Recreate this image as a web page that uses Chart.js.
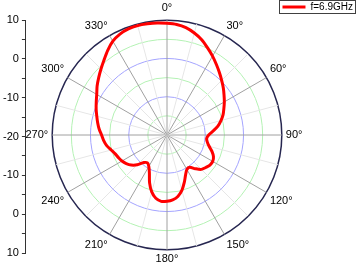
<!DOCTYPE html>
<html>
<head>
<meta charset="utf-8">
<script src="https://cdn.jsdelivr.net/npm/chart.js@4"></script>
<style>
  body { margin: 0; background: #fff; }
  #wrap { position: relative; width: 358px; height: 269px; }
  #wrap canvas { position: absolute; left: 0; top: 0; }
</style>
</head>
<body>
<div id="wrap">
  <canvas id="polarChart" width="358" height="269"></canvas>
  <canvas id="axisChart" width="358" height="269"></canvas>
</div>
<script>
// angle in degrees, 5 deg steps
const angles = [
  0, 5, 10, 15, 20, 25, 30, 35, 40, 45, 50, 55,
  60, 65, 70, 75, 80, 85, 90, 95, 100, 105, 110, 115,
  120, 125, 130, 135, 140, 145, 150, 155, 160, 165, 170, 175,
  180, 185, 190, 195, 200, 205, 210, 215, 220, 225, 230, 235,
  240, 245, 250, 255, 260, 265, 270, 275, 280, 285, 290, 295,
  300, 305, 310, 315, 320, 325, 330, 335, 340, 345, 350, 355
];
// gain (dB)
const gain = [
  9.2, 9.0, 8.5, 7.6, 6.5, 5.1, 3.8, 2.5, 1.3, 0.2, -0.8, -1.8,
  -2.7, -3.6, -4.4, -5.4, -6.5, -7.9, -9.1, -9.6, -9.3, -8.6, -7.5, -6.6,
  -6.2, -6.3, -6.8, -7.3, -8.5, -9.7, -9.6, -8.5, -6.8, -5.0, -3.7, -3.0,
  -2.7, -2.6, -3.2, -4.6, -6.7, -9.1, -10.5, -11.1, -10.6, -9.0, -7.8, -7.0,
  -6.4, -6.0, -5.6, -4.9, -4.0, -3.4, -2.9, -2.2, -1.6, -1.0, -0.3, 0.4,
  1.2, 2.3, 3.3, 4.4, 5.6, 7.0, 8.3, 9.1, 9.5, 9.6, 9.5, 9.4
];
const seriesName = 'f=6.9GHz';
const axisTickLabels = ['10', '0', '-10', '-20', '-10', '0', '10'];

Chart.defaults.font.family = 'Arial, "Liberation Sans", sans-serif';
Chart.defaults.font.size = 11;
Chart.defaults.color = '#000';

function ringColor(v) {
  if (v === 10) return '#262650';
  return v % 10 === 0 ? '#a4a4ff' : '#b4f2b4';
}

function spokeColor(i) {
  if (i % 6 === 0) return '#a0a0a0';
  if (i % 3 === 0) return '#e6e6e6';
  return 'rgba(0,0,0,0)';
}

new Chart(document.getElementById('polarChart'), {
  type: 'radar',
  data: {
    labels: angles,
    datasets: [{
      label: seriesName,
      data: gain,
      borderColor: '#ff0000',
      borderWidth: 3,
      pointRadius: 0,
      fill: false,
      tension: 0.3
    }]
  },
  options: {
    responsive: false,
    animation: false,
    layout: { padding: { left: 18, right: 48, top: 0, bottom: -3 } },
    plugins: { legend: { display: false }, tooltip: { enabled: false } },
    scales: {
      r: {
        min: -20,
        max: 10,
        ticks: { display: false, stepSize: 5 },
        grid: {
          circular: true,
          color: ctx => ringColor(ctx.tick.value),
          lineWidth: ctx => ctx.tick.value === 10 ? 1.5 : 1
        },
        angleLines: { color: ctx => spokeColor(ctx.index), lineWidth: 1 },
        pointLabels: {
          font: { size: 11 },
          color: '#000',
          padding: ctx => ctx.index === 0 ? 6 : (ctx.index === 36 ? 3 : 4),
          callback: v => v % 30 === 0 ? v + '°' : ''
        }
      }
    }
  }
});

// frame round the legend, like the original
const legendFrame = {
  id: 'legendFrame',
  afterDraw(chart) {
    const hb = chart.legend.legendHitBoxes[0];
    if (!hb) return;
    const c = chart.ctx;
    c.save();
    c.strokeStyle = '#404040';
    c.lineWidth = 1;
    c.strokeRect(Math.round(hb.left) - 2.5, Math.round(hb.top) - 1.5,
                 Math.round(hb.width) + 5, Math.round(hb.height) + 3);
    c.restore();
  }
};

new Chart(document.getElementById('axisChart'), {
  type: 'line',
  data: {
    labels: [],
    datasets: [{
      label: seriesName,
      data: [],
      borderColor: '#ff0000',
      backgroundColor: '#ff0000',
      borderWidth: 3
    }]
  },
  options: {
    responsive: false,
    animation: false,
    layout: { padding: { left: 0, right: 5, top: 2, bottom: 16 } },
    plugins: {
      legend: {
        position: 'top',
        align: 'end',
        maxHeight: 18,
        labels: {
          usePointStyle: true,
          pointStyle: 'line',
          pointStyleWidth: 23,
          padding: 0,
          font: { size: 10 },
          color: '#000'
        }
      },
      tooltip: { enabled: false }
    },
    scales: {
      x: { display: false },
      y: {
        min: -30,
        max: 30,
        ticks: {
          stepSize: 5,
          autoSkip: false,
          padding: 3,
          color: '#000',
          callback: (v, i) => i % 2 === 0 ? axisTickLabels[i / 2] : ''
        },
        grid: { drawOnChartArea: false, drawTicks: true, tickLength: 4, color: '#333' },
        border: { color: '#333' }
      }
    }
  },
  plugins: [legendFrame]
});
</script>
</body>
</html>
